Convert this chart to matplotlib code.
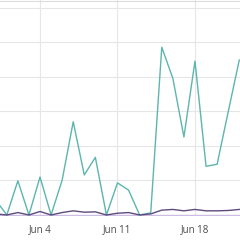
import numpy as np
import pandas as pd
import matplotlib
matplotlib.use("Agg")
import matplotlib.pyplot as plt
import matplotlib.dates as mdates

days = pd.date_range("2023-05-31", "2023-06-22", freq="D")
teal_vals = [43, 0, 99, 0, 110, 0, 101, 270, 116, 167, 0, 93, 72, 0, 6,
             486, 396, 226, 446, 141, 147, 299, 449]
purple_vals = [3, 0, 7, 0, 10, 0, 7, 12, 8, 9, 0, 5, 7, 0, 3,
               14, 16, 12, 16, 12, 12, 13, 16]
zero_vals = [0] * len(days)
tick_days = pd.to_datetime(["2023-06-04", "2023-06-11", "2023-06-18"])

fig = plt.figure(figsize=(2.4, 2.4), dpi=100)
ax = fig.add_axes([0, 0.1, 1, 0.9])

ax.plot(days, zero_vals, color="#cbbde3", lw=1.0)
ax.plot(days, teal_vals, color="#5cb5ae", lw=1.0)
ax.plot(days, purple_vals, color="#5e4a7e", lw=1.0)

x0 = mdates.date2num(pd.Timestamp("2023-05-31")) + 0.386
ax.set_xlim(x0, x0 + 240 / 11.07)
ax.set_ylim(-3, 623)

ax.set_xticks(tick_days)
ax.xaxis.set_major_formatter(mdates.DateFormatter("%b %-d"))
ax.set_yticks([0, 100, 200, 300, 400, 500, 600])
ax.set_yticklabels([])
ax.grid(True, color="#e6e6e6", lw=0.8)
ax.set_axisbelow(True)
ax.tick_params(length=0, labelsize=7, labelcolor="#4a4a4a", pad=6)
for s in ax.spines.values():
    s.set_visible(False)
for lab in ax.get_xticklabels():
    lab.set_family("Open Sans")

# thin border line at the very top of the panel
ax.plot([0, 1], [1 - 1.2 / 216, 1 - 1.2 / 216], transform=ax.transAxes,
        color="#dcdcdc", lw=0.8, clip_on=False)

fig.savefig("out.png", dpi=100)
